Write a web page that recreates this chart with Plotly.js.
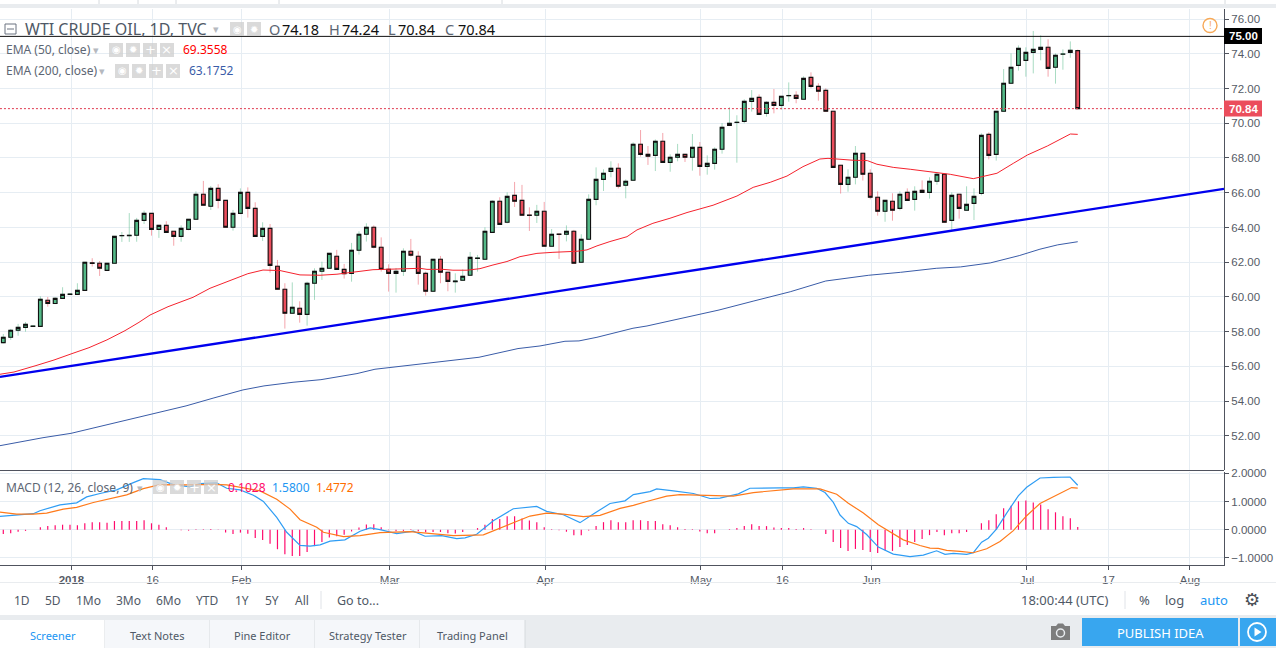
<!DOCTYPE html>
<html><head><meta charset="utf-8">
<script src="https://cdn.plot.ly/plotly-3.0.1.min.js"></script>
<style>html,body{margin:0;padding:0;background:#fff;overflow:hidden}#c{width:1276px;height:648px}</style>
</head><body><div id="c"></div>
<script>
const opens=[57.37,57.68,58.08,58.25,58.30,58.31,59.81,59.62,59.92,60.15,
60.15,60.38,61.96,61.94,61.53,61.94,63.52,63.53,63.55,64.41,
64.81,63.89,64.12,63.78,63.49,63.89,64.47,65.91,65.22,66.25,
65.56,64.01,64.81,66.02,65.10,63.49,63.95,61.77,60.44,59.06,
59.35,59.00,60.79,61.48,61.65,62.34,61.59,61.35,62.69,63.61,
64.01,62.86,61.59,61.36,61.48,62.63,62.34,61.36,60.33,62.17,
61.42,60.88,60.96,61.25,62.22,62.17,63.72,65.51,64.30,65.85,
65.56,64.71,64.70,64.93,62.92,63.62,63.61,63.78,62.00,63.32,
65.62,66.77,67.23,67.41,66.43,66.72,68.79,68.21,68.15,68.96,
67.75,68.04,68.21,68.04,68.61,67.52,67.69,68.50,69.88,70.04,
70.11,71.26,71.49,70.57,71.20,71.03,71.58,71.61,71.38,72.64,
72.12,71.89,70.69,67.58,66.48,66.89,68.27,67.12,65.74,64.93,
65.51,65.10,66.02,65.62,66.14,66.02,66.66,67.06,64.41,65.91,
64.99,65.39,65.96,69.36,68.21,70.69,72.30,73.33,73.62,74.08,
74.25,74.37,73.22,73.97,74.08,74.18];
const closes=[57.68,58.08,58.25,58.43,58.33,59.87,59.62,59.92,60.15,60.17,
60.38,62.00,61.93,61.65,61.94,63.49,63.54,63.55,64.41,64.81,
63.89,64.12,63.72,63.49,63.95,64.47,65.91,65.28,66.25,65.56,
64.01,64.81,66.02,65.10,63.49,63.95,61.82,60.44,59.06,59.41,
59.00,60.79,61.48,61.65,62.51,61.59,61.34,62.69,63.61,64.01,
62.86,61.59,61.36,61.48,62.63,62.40,61.36,60.33,62.17,61.42,
60.90,60.92,61.19,62.28,62.24,63.78,65.51,64.18,65.79,65.51,
64.70,64.69,64.93,62.92,63.61,63.60,63.78,61.94,63.32,65.62,
66.77,67.12,67.41,66.37,66.66,68.79,68.21,68.10,68.96,67.75,
68.04,68.21,68.04,68.61,67.52,67.69,68.50,69.77,70.00,70.06,
71.26,71.43,70.51,71.20,71.03,71.55,71.60,71.43,72.58,72.12,
71.84,70.69,67.46,66.48,66.89,68.27,67.06,65.74,64.93,65.56,
64.99,65.91,65.56,66.08,66.02,66.66,67.06,64.30,65.85,65.10,
65.33,65.79,69.30,68.15,70.69,72.30,73.22,74.31,74.08,74.25,
74.37,73.16,73.91,73.99,74.20,70.84];
const highs=[57.87,58.16,58.45,58.56,58.34,60.04,60.00,59.98,60.56,60.18,
60.79,62.00,62.23,62.07,61.95,63.50,63.74,64.83,64.55,64.97,
64.82,64.13,64.36,63.79,64.12,64.48,66.08,66.68,66.39,66.49,
65.57,65.01,66.25,66.31,65.45,64.30,64.20,62.13,60.79,60.84,
59.75,60.88,61.65,62.03,62.52,62.71,61.90,63.11,63.78,64.24,
64.12,63.43,61.88,61.67,62.80,63.34,62.63,61.46,62.18,62.36,
61.43,61.36,61.59,62.59,62.42,64.01,65.56,65.74,66.02,66.62,
66.45,65.16,65.30,65.47,63.91,63.63,64.12,63.86,63.61,65.91,
67.46,67.35,67.81,67.69,66.77,68.90,69.61,68.69,69.07,69.44,
68.21,68.81,68.22,69.38,68.92,68.15,68.61,70.01,70.92,70.46,
71.38,71.91,71.66,71.26,71.97,71.56,72.35,71.84,72.70,72.93,
72.30,72.01,70.70,67.59,67.35,68.69,68.28,67.35,66.08,65.57,
65.97,66.08,66.25,66.37,66.71,66.89,67.17,67.07,66.02,65.92,
66.37,66.25,69.42,69.48,70.70,73.12,74.02,74.48,74.37,75.31,
75.06,74.83,74.02,74.25,74.71,74.24];
const lows=[57.33,57.53,57.77,58.00,58.29,58.30,59.44,59.60,59.90,60.13,
60.13,60.36,61.75,61.21,61.52,61.93,63.17,63.17,63.18,64.20,
63.53,63.40,63.70,62.95,63.18,63.84,64.46,65.27,65.01,65.10,
64.00,63.82,64.76,64.57,63.48,63.22,61.40,60.43,58.18,59.02,
58.52,58.35,59.83,60.98,61.63,61.58,61.06,60.88,62.44,63.19,
62.80,61.46,60.31,60.25,61.21,62.32,60.71,60.08,60.31,60.79,
60.33,60.25,60.94,61.24,61.46,62.16,63.71,64.17,64.24,65.18,
64.69,63.80,64.26,62.91,62.91,62.19,63.20,61.93,61.99,63.31,
65.28,66.10,66.89,66.25,65.68,66.71,68.08,67.60,67.25,67.74,
67.21,67.81,67.77,67.27,66.98,67.04,67.33,68.25,69.86,67.73,
70.00,70.67,70.47,70.38,70.57,70.78,71.24,71.15,71.37,72.01,
71.30,70.68,67.45,65.95,66.06,66.48,66.70,65.62,64.68,64.33,
64.39,64.99,65.55,64.97,66.01,65.66,66.46,64.29,63.80,64.51,
64.98,64.43,65.85,67.92,67.85,70.68,72.29,73.03,72.68,72.87,
73.62,72.68,72.28,73.08,73.77,70.84];

const ema50X=[-0.45,1.44,4.41,6.84,9.14,11.56,13.99,16.42,18.31,19.8,22.23,25.6,27.9,29.65,31.94,33,35.05,36,37.34,40.04,42.74,45.03,47.73,49.89,56.23,57.18,59.34,60.68,62.57,64.33,66.08,67.97,69.73,72.02,74.18,77.42,78.77,80.12,81.87,84.17,85.52,87.67,89.97,92.27,95.78,99.01,101.2,103.5,105.76,107.92,110.2,111.3,114.7,116.6,117.9,120.1,122.4,125.5,127.8,130.9,134.1,136.3,138.2,140.9,144,145];
const ema50Y=[55.55,55.68,56.05,56.37,56.72,57.08,57.53,58.06,58.54,58.96,59.44,59.98,60.50,60.79,61.17,61.34,61.55,61.55,61.52,61.27,61.25,61.31,61.46,61.57,61.65,61.59,61.59,61.54,61.54,61.63,61.84,62.04,62.32,62.51,62.57,62.63,62.71,62.94,63.19,63.47,63.86,64.24,64.53,64.86,65.28,65.81,66.31,66.60,66.96,67.50,67.94,67.98,67.87,67.85,67.64,67.46,67.35,67.17,67.06,66.81,67.12,67.69,68.17,68.69,69.38,69.36];
const ema200X=[-0.45,1.98,5.36,9.14,12.51,16.42,20.34,24.66,28.43,32.35,35.18,39.1,42.87,47.73,50.16,55.02,60.28,64.2,69.46,72.43,75.8,77.69,80.12,84.98,86.87,91.73,96.59,101.3,106.2,111,116.8,121.1,125.9,129.2,133.2,137.1,139.9,142.3,145];
const ema200Y=[51.44,51.64,51.90,52.15,52.50,52.88,53.31,53.73,54.19,54.65,54.88,55.09,55.24,55.59,55.84,56.08,56.37,56.53,57.03,57.18,57.45,57.47,57.68,58.20,58.33,58.81,59.25,59.77,60.30,60.92,61.25,61.42,61.65,61.73,61.96,62.38,62.75,63.00,63.18];
const trendX=[-0.45,164.74];
const trendY=[55.40,66.22];

const macdBlueX=[-0.45,2.25,4.05,4.95,7.65,9.9,11.25,13.05,15.3,17.55,18.9,21.15,22.95,25.2,26.55,28.8,30.15,31.95,33.75,35.1,36.9,38.25,40.05,41.4,42.75,44.1,46.1,48.15,49.5,50.84,53.09,55.34,56.91,59.16,61.19,62.31,63.89,66.13,68.83,71.98,73.33,75.58,77.83,79.63,81.88,83.9,85.03,87.28,88.18,90.43,93.13,95.38,96.72,99.2,100.77,104.82,106.62,107.97,109.77,110.89,112.02,112.92,114.04,115.17,116.51,118.09,120.11,122.36,124.16,125.96,127.09,128.21,130.01,130.91,132.03,132.93,134.06,135.41,136.98,138.11,139.91,141.71,143.96,145];
const macdBlueY=[0.476,0.534,0.57,0.675,0.886,0.957,1.168,1.286,1.415,1.673,1.814,1.779,1.602,1.52,1.638,1.661,1.473,1.415,1.227,1.004,0.44,-0.088,-0.557,-0.581,-0.534,-0.405,-0.358,-0.052,0.065,0.006,-0.135,-0.052,-0.229,-0.205,-0.311,-0.287,-0.158,0.323,0.746,0.828,0.652,0.534,0.253,0.558,0.933,1.027,1.25,1.356,1.45,1.38,1.286,1.11,1.121,1.274,1.473,1.485,1.485,1.52,1.473,1.321,0.969,0.523,0.229,0.112,-0.17,-0.616,-0.862,-0.956,-0.897,-0.745,-0.874,-0.839,-0.874,-0.815,-0.44,-0.299,0.03,0.593,1.203,1.509,1.837,1.861,1.872,1.58];
const macdOrangeX=[-0.45,1.8,4.05,5.85,8.1,9.9,12.15,14.4,16.65,18.9,21.15,24.75,28.35,30.15,32.4,34.65,36.9,38.7,40.05,42.3,43.2,45.9,48.15,50.84,54.89,57.59,60.74,64.79,66.58,68.83,71.08,73.33,75.58,78.28,80.53,83.23,85.03,86.83,89.53,91.32,94.02,98.52,101.22,104.37,106.62,110.22,112.47,114.04,116.07,118.09,120.11,121.46,123.71,125.06,126.18,127.31,129.11,130.91,132.71,134.51,136.31,138.11,139.91,141.71,143.5,144.18,145];
const macdOrangeY=[0.628,0.558,0.558,0.593,0.734,0.793,0.969,1.11,1.239,1.462,1.602,1.591,1.614,1.591,1.497,1.38,1.086,0.734,0.358,0.088,-0.088,-0.24,-0.205,-0.099,-0.064,-0.123,-0.205,-0.181,0.006,0.241,0.487,0.593,0.558,0.464,0.511,0.757,0.863,1.004,1.192,1.25,1.227,1.192,1.321,1.391,1.45,1.45,1.262,0.945,0.593,0.182,-0.146,-0.358,-0.557,-0.651,-0.663,-0.733,-0.768,-0.815,-0.674,-0.416,-0.029,0.499,0.933,1.18,1.426,1.497,1.477];
const macdHist=[-0.15,-0.12,-0.07,-0.04,0,0.09,0.13,0.16,0.18,0.18,
0.16,0.23,0.27,0.27,0.25,0.31,0.31,0.31,0.31,0.34,
0.23,0.18,0.09,0,-0.02,-0.03,0.02,0.02,0.03,0.01,
-0.10,-0.15,-0.10,-0.14,-0.29,-0.36,-0.50,-0.69,-0.87,-0.93,
-0.93,-0.79,-0.58,-0.43,-0.27,-0.23,-0.18,-0.06,0.08,0.19,
0.20,0.09,-0.02,-0.05,-0.04,0.02,-0.05,-0.09,-0.08,-0.08,
-0.12,-0.13,-0.08,0,0.06,0.18,0.38,0.38,0.48,0.48,
0.40,0.33,0.27,0.09,0.02,-0.02,-0.07,-0.19,-0.19,-0.03,
0.13,0.27,0.34,0.27,0.27,0.34,0.34,0.31,0.31,0.20,
0.16,0.09,0.03,0.02,-0.06,-0.12,-0.12,0,0.02,0.06,
0.13,0.20,0.13,0.13,0.08,0.06,0.06,0.03,0.06,0.02,
0,-0.15,-0.43,-0.65,-0.75,-0.68,-0.72,-0.79,-0.82,-0.73,
-0.75,-0.61,-0.54,-0.43,-0.33,-0.19,-0.08,-0.19,-0.12,-0.12,
-0.08,0,0.23,0.34,0.55,0.76,0.85,1.01,1.04,0.97,
0.90,0.73,0.62,0.48,0.41,0.10];

const dateTickPos=[9.2,20.15,32.15,52.15,73.15,94.15,105.15,117.15,138.15,149.15,160.15];
const dateTickText=['<b>2018</b>','16','Feb','Mar','Apr','May','16','Jun','Jul','17','Aug'];
const rangeButtons=['1D','5D','1Mo','3Mo','6Mo','YTD','1Y','5Y','All'];
const rangeButtonLeft=[13,44,75,115,155,195,234,264,294];
const tabNames=['Screener','Text Notes','Pine Editor','Strategy Tester','Trading Panel'];
const lastPrice=70.84, linePrice=75;

const idx=opens.map((_,i)=>i);
const up='#53b987', dn='#eb4d5c';
const W=1224, H=556, TOP=9;
const fx=p=>p/W, fy=p=>(TOP+H-p)/H;
const font1='"Noto Sans", sans-serif', font2='"Liberation Sans", Arial, sans-serif';

const wicks={type:'candlestick',x:idx,open:opens,high:highs,low:lows,close:closes,xaxis:'x',yaxis:'y',whiskerwidth:0,hoverinfo:'skip',showlegend:false,
  increasing:{line:{color:'rgba(83,185,135,0.5)',width:1},fillcolor:'rgba(0,0,0,0)'},
  decreasing:{line:{color:'rgba(235,77,92,0.5)',width:1},fillcolor:'rgba(0,0,0,0)'}};
const bodies={type:'candlestick',x:idx,open:opens,close:closes,
  high:opens.map((o,i)=>Math.max(o,closes[i])),low:opens.map((o,i)=>Math.min(o,closes[i])),
  xaxis:'x',yaxis:'y',whiskerwidth:0,hoverinfo:'skip',showlegend:false,
  increasing:{line:{color:'#111',width:1.1},fillcolor:up},
  decreasing:{line:{color:'#111',width:1.1},fillcolor:dn}};
const ln=(x,y,color,width,dash,ya)=>({type:'scatter',mode:'lines',x,y,xaxis:'x',yaxis:ya||'y',hoverinfo:'skip',showlegend:false,line:{color,width,dash:dash||'solid'}});
const xEnds=[-0.45,164.74];
const data=[
  ln(ema200X,ema200Y,'#3a5ca8',1),
  ln(ema50X,ema50Y,'#f5222d',1),
  wicks,bodies,
  ln(trendX,trendY,'#0000ee',2.4),
  ln(xEnds,[lastPrice,lastPrice],'#e0394f',1,'2px,2px'),
  ln(xEnds,[linePrice,linePrice],'#111',1),
  {type:'bar',x:idx,y:macdHist,xaxis:'x',yaxis:'y2',width:0.16,marker:{color:'#ff0a6c',line:{width:0}},hoverinfo:'skip',showlegend:false},
  ln(macdBlueX,macdBlueY,'#2f9df4',1.2,null,'y2'),
  ln(macdOrangeX,macdOrangeY,'#ff7a1a',1.2,null,'y2')
];

const shapes=[], anns=[];
const rect=(x0,y0,x1,y1,fill,line,layer)=>shapes.push({type:'rect',xref:'paper',yref:'paper',x0:fx(x0),x1:fx(x1),y0:fy(y1),y1:fy(y0),fillcolor:fill,line:{width:line?1:0,color:line||fill},layer:layer||'above'});
const hline=(x0,y0,x1,y1,c,w)=>shapes.push({type:'line',xref:'paper',yref:'paper',x0:fx(x0),x1:fx(x1),y0:fy(y0),y1:fy(y1),line:{color:c,width:w||1},layer:'above'});
const txt=(s,x,y,size,color,family,anchor,bg)=>anns.push({xref:'paper',yref:'paper',x:fx(x),y:fy(y),text:s,showarrow:false,xanchor:anchor||'left',yanchor:'middle',align:anchor||'left',font:{size,color,family:family||font1},borderpad:0,bgcolor:bg||'rgba(0,0,0,0)'});
const caret=(x,y)=>txt('▾',x,y,11,'#b5b9bf');
const icons=(xs,y)=>xs.forEach((x,k)=>{rect(x,y-7,x+14,y+7,'rgba(205,205,205,0.75)');
  txt(['◉','✹','+','×'][k],x+7,y,k>1?13:10,'#ffffff',"DejaVu Sans",'center');});

// page chrome
rect(0,4,1276,8,'#e9ecef',null,'below');
[99,138,176,279,502,1225].forEach(x=>hline(x,0,x,4,'#d6dade'));
hline(0,470.5,W,470.5,'#50535e',1);
rect(0,582,1276,583,'#e9ecef');
rect(0,615,1276,648,'#e9ecef');
hline(321,591,321,609,'#e0e3e8');hline(1125,591,1125,609,'#e0e3e8');

// legend rows
rect(5,24,16,34,'#fff','#6b7280');hline(7,29,14,29,'#6b7280');
txt('WTI CRUDE OIL, 1D, TVC',24,28.5,16,'#4f5966');
caret(212,28);
icons([230,247],29);
[['O','74.18',268],['H','74.24',328],['L','70.84',387],['C','70.84',444]].forEach(a=>{
  txt(a[0],a[2],28.5,14.5,'#5d6673');txt(a[1],a[2]+(a[0]==='L'?10:12.5),28.5,14.5,'#111');});
txt('EMA (50, close)',5,49,12,'#5d6673');caret(92,49);icons([109,126,143,160],50);
txt('69.3558',182,49.5,12,'#ff0000');
txt('EMA (200, close)',5,70,12,'#5d6673');caret(98,70);icons([115,132,149,166],71);
txt('63.1752',188,70.5,12,'#3a5ca8');
txt('MACD (12, 26, close, 9)',5,487,12,'#5d6673');caret(136,487);icons([153,170,187,204],487);
txt('0.1028',227,487.5,12,'#ff0a6c');txt('1.5800',271,487.5,12,'#2196f3');txt('1.4772',315,487.5,12,'#ff6d00');

// price flags
rect(1224,28,1262,44,'#000');txt('<b>75.00</b>',1243,36,11.5,'#fff',font2,'center');
rect(1224,100.5,1262,116.5,'#eb4d5c');txt('<b>70.84</b>',1243,108.5,11.5,'#fff',font2,'center');
shapes.push({type:'circle',xref:'paper',yref:'paper',x0:fx(1203),x1:fx(1217),y0:fy(32.5),y1:fy(18.5),line:{color:'#f7a957',width:1.4},fillcolor:'#fff',layer:'above'});
txt('!',1210,25.5,10,'#f7a957',font2,'center');

// toolbar
rangeButtons.forEach((b,i)=>txt(b,rangeButtonLeft[i],600,12,'#4f5966'));
txt('Go to...',336,600,12.5,'#4f5966');
txt('18:00:44 (UTC)',1020,600,13,'#4f5966');
txt('%',1144,600,13,'#4f5966',font1,'center');
txt('log',1174,600,13,'#4f5966',font1,'center');
txt('auto',1214,600,13,'#2196f3',font1,'center');
txt('⚙',1252,599,18,'#4a4f57',"DejaVu Sans",'center');

// tabs
tabNames.forEach((t,i)=>{const a=i*105;
  rect(a,620,a+105,648,i?'#f5f7fa':'#ffffff');
  hline(a+105,620,a+105,648,'#d6dade');
  txt(t,a+52.5,635,11,i?'#4f5966':'#2196f3',font1,'center');});

// camera + publish
shapes.push({type:'path',xref:'paper',yref:'paper',layer:'above',fillcolor:'#7d7d7d',line:{width:0},
  path:`M ${fx(1051)} ${fy(626)} L ${fx(1056)} ${fy(626)} L ${fx(1058)} ${fy(623.5)} L ${fx(1063)} ${fy(623.5)} L ${fx(1065)} ${fy(626)} L ${fx(1070)} ${fy(626)} L ${fx(1070)} ${fy(640)} L ${fx(1051)} ${fy(640)} Z`});
shapes.push({type:'circle',xref:'paper',yref:'paper',layer:'above',x0:fx(1056.5),x1:fx(1064.5),y0:fy(637),y1:fy(629),fillcolor:'#7d7d7d',line:{color:'#e9ecef',width:1.5}});
rect(1082,618,1238,646,'#38a6ef');
rect(1240,618,1276,646,'#38a6ef');
txt('PUBLISH IDEA',1160,632.5,13,'#ffffff',font1,'center');
shapes.push({type:'circle',xref:'paper',yref:'paper',layer:'above',x0:fx(1248),x1:fx(1266),y0:fy(641),y1:fy(623),fillcolor:'rgba(0,0,0,0)',line:{color:'#fff',width:1.8}});
shapes.push({type:'path',xref:'paper',yref:'paper',layer:'above',fillcolor:'#fff',line:{width:0},
  path:`M ${fx(1254.5)} ${fy(627.5)} L ${fx(1261.5)} ${fy(632)} L ${fx(1254.5)} ${fy(636.5)} Z`});

const grid='#e6edf3';
const layout={
  width:1276,height:648,autosize:false,showlegend:false,
  paper_bgcolor:'#ffffff',plot_bgcolor:'#ffffff',
  margin:{l:0,r:52,t:TOP,b:83,pad:0},
  boxgap:0.28,barmode:'overlay',dragmode:false,hovermode:false,
  xaxis:{domain:[0,1],range:[-0.445,164.74],anchor:'y2',type:'linear',rangeslider:{visible:false},
    tickmode:'array',tickvals:dateTickPos,ticktext:dateTickText,
    showgrid:true,gridcolor:grid,gridwidth:1,zeroline:false,
    showline:true,linecolor:'#50535e',linewidth:1,ticks:'outside',ticklen:4,tickcolor:'#50535e',
    tickfont:{family:font2,size:11.5,color:'#555b66'},tickangle:0},
  yaxis:{domain:[95/556,1],range:[50.04,76.576],side:'right',anchor:'x',
    tickmode:'linear',tick0:52,dtick:2,tickformat:'.2f',
    showgrid:true,gridcolor:grid,gridwidth:1,zeroline:false,
    showline:true,linecolor:'#50535e',linewidth:1,ticks:'outside',ticklen:4,tickcolor:'#50535e',
    tickfont:{family:font2,size:11.5,color:'#555b66'}},
  yaxis2:{domain:[0,93/556],range:[-1.25,2.05],side:'right',anchor:'x',
    tickmode:'linear',tick0:-1,dtick:1,tickformat:'.4f',
    showgrid:true,gridcolor:grid,gridwidth:1,zeroline:false,
    showline:true,linecolor:'#50535e',linewidth:1,ticks:'outside',ticklen:4,tickcolor:'#50535e',
    tickfont:{family:font2,size:11.5,color:'#555b66'}},
  shapes,annotations:anns
};
Plotly.newPlot('c',data,layout,{displayModeBar:false,staticPlot:true});
</script></body></html>
